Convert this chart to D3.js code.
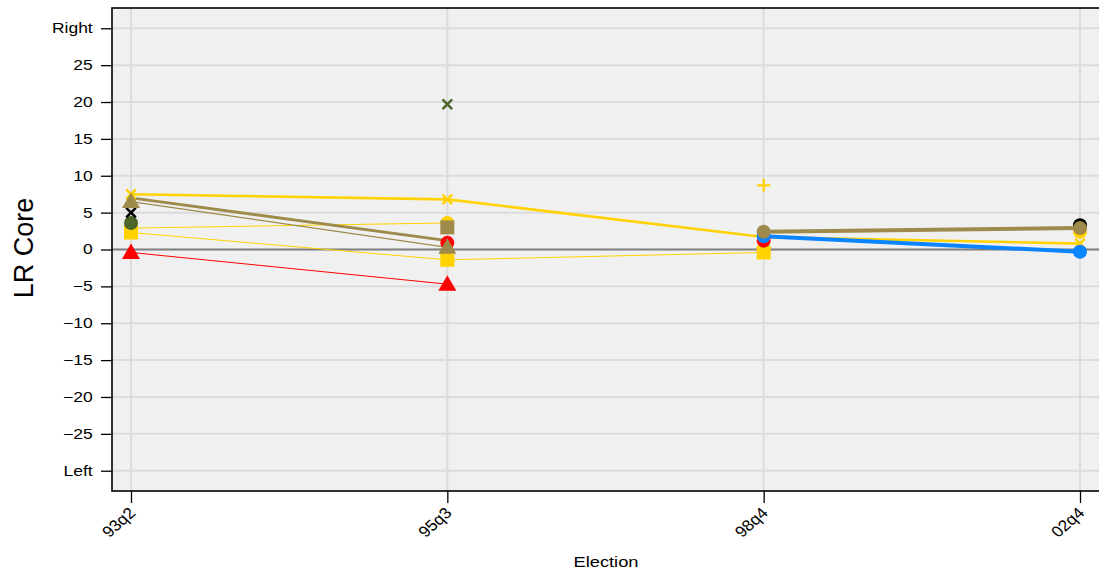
<!DOCTYPE html>
<html><head><meta charset="utf-8">
<script src="https://cdn.jsdelivr.net/npm/d3@7"></script>
<style>body{margin:0;background:#fff;} svg{display:block;font-family:"Liberation Sans",Arial,sans-serif;}</style>
</head><body>
<svg id="c" width="1099" height="575"></svg>
<script>
const elections = ["93q2", "95q3", "98q4", "02q4"];
const yTickValues = [-30, -25, -20, -15, -10, -5, 0, 5, 10, 15, 20, 25, 30];
const yTickLabels = ["Left", "\u221225", "\u221220", "\u221215", "\u221210", "\u22125", "0", "5", "10", "15", "20", "25", "Right"];

// series values per election (null = missing)
const yellowCircle = [2.9, 3.6, null, 2.4];
const yellowSquare = [2.3, -1.4, -0.4, null];
const yellowCross = [7.5, 6.8, 1.7, 0.8];
const yellowPlus = [null, null, 8.7, null];
const redCircle = [null, 0.9, 1.2, null];
const redTriangle = [-0.4, -4.7, null, null];
const blueCircle = [null, null, 1.8, -0.3];
const greenCircle = [3.6, null, null, null];
const greenCross = [null, 19.7, null, null];
const blackCross = [5.0, null, null, null];
const blackCircle = [null, null, null, 3.3];
const khakiLineA = [7.0, 1.2, null, null];
const khakiTriangle = [6.5, 0.3, null, null];
const khakiSquare = [null, 3.0, null, null];
const khakiCircle = [null, null, 2.4, 2.9];

const YEL = "#FFD200", RED = "#FF0000", BLUE = "#0A84FF", GRN = "#4B6628", BLK = "#000000", KHA = "#9E8A4B";

const series = [
  {v: yellowCircle, c: YEL, lw: 1, m: "circle"},
  {v: yellowSquare, c: YEL, lw: 1, m: "square"},
  {v: yellowCross, c: YEL, lw: 2.6, m: "x"},
  {v: yellowPlus, c: YEL, lw: 0, m: "plus"},
  {v: redCircle, c: RED, lw: 0, m: "circle"},
  {v: redTriangle, c: RED, lw: 1, m: "triangle"},
  {v: blueCircle, c: BLUE, lw: 4, m: "circle"},
  {v: greenCircle, c: GRN, lw: 0, m: "circle"},
  {v: greenCross, c: GRN, lw: 0, m: "x"},
  {v: blackCross, c: BLK, lw: 0, m: "x"},
  {v: blackCircle, c: BLK, lw: 0, m: "circle"},
  {v: khakiLineA, c: KHA, lw: 2.8, m: null},
  {v: khakiTriangle, c: KHA, lw: 1.2, m: "triangle"},
  {v: khakiSquare, c: KHA, lw: 0, m: "square"},
  {v: khakiCircle, c: KHA, lw: 4, m: "circle"}
];

const svg = d3.select("#c");
const P = {l: 112, t: 8, r: 1101, b: 491};
const x = d3.scalePoint().domain(elections).range([131, 1080]);
const y = d3.scaleLinear().domain([-32.75, 32.75]).range([P.b, P.t]);

svg.append("rect").attr("x", P.l).attr("y", P.t).attr("width", P.r - P.l).attr("height", P.b - P.t).attr("fill", "#F0F0F0");
// grid
svg.append("g").selectAll("line").data(yTickValues).join("line")
  .attr("x1", P.l).attr("x2", P.r).attr("y1", d => y(d)).attr("y2", d => y(d))
  .attr("stroke", "#DCDCDC").attr("stroke-width", 2);
svg.append("g").selectAll("line").data(elections).join("line")
  .attr("x1", d => x(d)).attr("x2", d => x(d)).attr("y1", P.t).attr("y2", P.b)
  .attr("stroke", "#DCDCDC").attr("stroke-width", 2);
svg.append("line").attr("x1", P.l).attr("x2", P.r).attr("y1", y(0)).attr("y2", y(0))
  .attr("stroke", "#808080").attr("stroke-width", 2.2);

// lines
const line = d3.line().defined(d => d.v != null).x(d => x(d.e)).y(d => y(d.v));
const gL = svg.append("g");
series.forEach(s => {
  if (!s.lw) return;
  const pts = elections.map((e, i) => ({e, v: s.v[i]}));
  gL.append("path").attr("d", line(pts)).attr("fill", "none").attr("stroke", s.c).attr("stroke-width", s.lw);
});
// markers
const gM = svg.append("g");
series.forEach(s => {
  if (!s.m) return;
  elections.forEach((e, i) => {
    const v = s.v[i]; if (v == null) return;
    const cx = x(e), cy = y(v);
    if (s.m === "circle") gM.append("circle").attr("cx", cx).attr("cy", cy).attr("r", 7).attr("fill", s.c);
    else if (s.m === "square") gM.append("rect").attr("x", cx - 7).attr("y", cy - 7).attr("width", 14).attr("height", 14).attr("fill", s.c);
    else if (s.m === "triangle") gM.append("path").attr("d", `M${cx},${cy-9}L${cx+9},${cy+6.5}L${cx-9},${cy+6.5}Z`).attr("fill", s.c);
    else if (s.m === "x") gM.append("path").attr("d", `M${cx-4.8},${cy-4.8}L${cx+4.8},${cy+4.8}M${cx-4.8},${cy+4.8}L${cx+4.8},${cy-4.8}`).attr("stroke", s.c).attr("stroke-width", 2.5);
    else if (s.m === "plus") gM.append("path").attr("d", `M${cx-6.5},${cy}L${cx+6.5},${cy}M${cx},${cy-6.5}L${cx},${cy+6.5}`).attr("stroke", s.c).attr("stroke-width", 2.2);
  });
});

// border
svg.append("rect").attr("x", P.l).attr("y", P.t).attr("width", P.r - P.l).attr("height", P.b - P.t)
  .attr("fill", "none").attr("stroke", "#000").attr("stroke-width", 1.6);

// y axis
const yAxis = d3.axisLeft(y).tickValues(yTickValues).tickFormat((d, i) => yTickLabels[i]).tickSize(11).tickPadding(6);
const gy = svg.append("g").attr("transform", `translate(${P.l},0)`).call(yAxis);
gy.select(".domain").remove();
gy.selectAll(".tick line").attr("stroke", "#000").attr("stroke-width", 1.3);
gy.selectAll(".tick text").attr("font-size", 14).attr("fill", "#000").attr("font-family", "Liberation Sans, Arial, sans-serif")
  .attr("x", -19.3 / 1.25).attr("transform", "scale(1.25,1)");

// x axis
const xAxis = d3.axisBottom(x).tickSize(12).tickPadding(4);
const gx = svg.append("g").attr("transform", `translate(0,${P.b})`).call(xAxis);
gx.select(".domain").remove();
gx.selectAll(".tick line").attr("stroke", "#000").attr("stroke-width", 1.3);
gx.selectAll(".tick text").attr("font-size", 15.5).attr("fill", "#000").attr("font-family", "Liberation Sans, Arial, sans-serif")
  .attr("text-anchor", "end").attr("dy", null).attr("y", 0)
  .attr("transform", "translate(5,23) scale(1.12,1) rotate(-45)");

svg.append("text").attr("transform", "translate(606,567) scale(1.18,1)").attr("text-anchor", "middle").attr("font-size", 15.5).text("Election");
svg.append("text").attr("transform", "translate(33,248) rotate(-90)").attr("text-anchor", "middle").attr("font-size", 27).text("LR Core");
</script>
</body></html>
